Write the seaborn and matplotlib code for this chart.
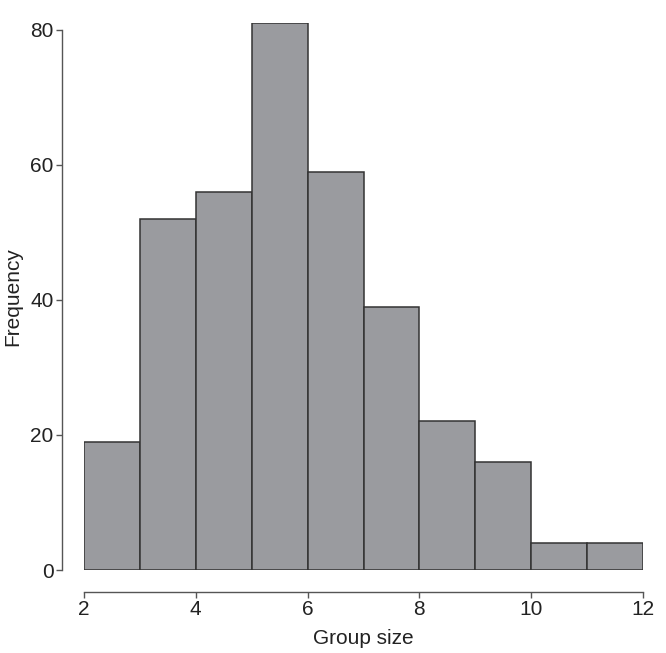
import numpy as np
import pandas as pd
import matplotlib
matplotlib.use("Agg")
import matplotlib.pyplot as plt
import seaborn as sns

# histogram bins (group size) and counts
bin_edges = [2, 3, 4, 5, 6, 7, 8, 9, 10, 11, 12]
counts = [19, 52, 56, 81, 59, 39, 22, 16, 4, 4]
x_ticks = [2, 4, 6, 8, 10, 12]
y_ticks = [0, 20, 40, 60, 80]

sns.set_style("ticks")
plt.rcParams['font.family'] = ['Liberation Sans', 'DejaVu Sans']

df = pd.DataFrame({
    "group_size": [(a + b) / 2 for a, b in zip(bin_edges[:-1], bin_edges[1:])],
    "count": counts,
})

fig = plt.figure(figsize=(6.66, 6.53), dpi=100)
ax = fig.add_axes([84 / 666, 83 / 653, (643 - 84) / 666, (630 - 83) / 653])

sns.histplot(data=df, x="group_size", weights="count", bins=bin_edges,
             color="#9a9b9f", alpha=1, edgecolor="#333333", linewidth=1.1, ax=ax)

ax.set_xlim(2, 12)
ax.set_ylim(0, 81)
ax.set_xticks(x_ticks)
ax.set_yticks(y_ticks)
ax.set_xlabel("Group size", fontsize=15, color="#222222", labelpad=7)
ax.set_ylabel("Frequency", fontsize=15, color="#222222", labelpad=6)
ax.tick_params(labelsize=15, length=4, width=1, pad=2, color="#555555", labelcolor="#222222")

# spines pulled away from the data by ~22 px
sns.despine(ax=ax, offset=22 * 72 / 100)
ax.spines['left'].set_bounds(0, 80)
ax.spines['bottom'].set_bounds(2, 12)
for s in ['left', 'bottom']:
    ax.spines[s].set_color("#555555")
    ax.spines[s].set_linewidth(1)

fig.savefig("out.png", dpi=100)
